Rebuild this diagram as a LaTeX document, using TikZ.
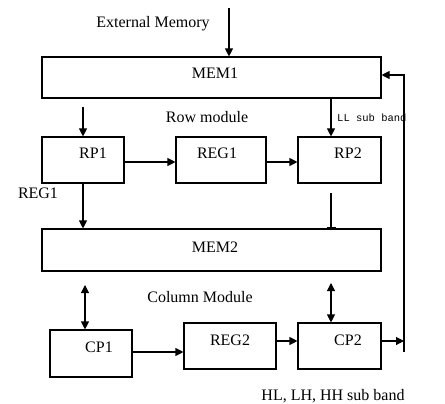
\documentclass[tikz,border=0pt]{standalone}
\usepackage{fontspec}
\setmainfont{Liberation Serif}
\newfontfamily\monofont{Liberation Mono}
\usetikzlibrary{arrows.meta}
\begin{document}
\begin{tikzpicture}[x=1pt,y=-1pt,
  box/.style={draw,line width=1.1pt,inner sep=0pt},
  lbl/.style={font=\fontsize{16}{18}\selectfont,inner sep=0pt},
  arr/.style={line width=1.1pt,-{Triangle[length=8pt,width=8pt]}},
  darr/.style={line width=1.1pt,{Triangle[length=8pt,width=8pt]}-{Triangle[length=8pt,width=8pt]}},
  barr/.style={line width=1.1pt,-{Bar[width=9pt,line width=1.5pt]}}]
\useasboundingbox (0,0) rectangle (445,404);
% boxes
\node[box,minimum width=339pt,minimum height=41pt] (mem1) at (211.5,77.5) {};
\node[box,minimum width=82pt,minimum height=46pt] (rp1) at (83,160) {};
\node[box,minimum width=90pt,minimum height=46pt] (reg1) at (221,160) {};
\node[box,minimum width=83pt,minimum height=46pt] (rp2) at (339.5,160) {};
\node[box,minimum width=339pt,minimum height=42pt] (mem2) at (211.5,250) {};
\node[box,minimum width=82pt,minimum height=47pt] (cp1) at (91,353.5) {};
\node[box,minimum width=92pt,minimum height=46pt] (reg2) at (230,346) {};
\node[box,minimum width=83pt,minimum height=46pt] (cp2) at (339.5,346) {};
% box texts
\node[lbl] (tmem1) at (215,73) {MEM1};
\node[lbl] (trp1) at (93,153) {RP1};
\node[lbl] (treg1) at (217,153) {REG1};
\node[lbl] (trp2) at (348,153) {RP2};
\node[lbl] (tmem2) at (215,247) {MEM2};
\node[lbl] (tcp1) at (99,347) {CP1};
\node[lbl] (treg2) at (230,340) {REG2};
\node[lbl] (tcp2) at (348,340) {CP2};
% free labels
\node[lbl] (lext) at (153,24) {External Memory};
\node[lbl] (lrow) at (207,117) {Row module};
\node[inner sep=0pt,anchor=west,font=\monofont\fontsize{10.5}{12}\selectfont] (lll) at (337,118) {LL sub band};
\node[lbl] (lreg1) at (38,193) {REG1};
\node[lbl] (lcol) at (200,297) {Column Module};
\node[lbl] (lhl) at (333,396) {HL, LH, HH sub band};
% coordinates
\coordinate (ext) at (229,8);
\coordinate (rp1in) at (83,107);
\coordinate (xr) at (331,0);
\coordinate (rp2out) at (331,193);
\coordinate (cp1top) at (85,285);
\coordinate (cp2top) at (331,283);
\coordinate (yrow) at (0,162);
\coordinate (ycp1) at (0,352);
\coordinate (ycp2) at (0,341);
\coordinate (fbout) at (404,341);
\coordinate (fbbot) at (404,352);
\coordinate (fbtop) at (404,75);
% connectors
\draw[arr] (ext) -- (ext|-mem1.north);
\draw[arr] (rp1in) -- (rp1in|-rp1.north);
\draw[arr] (mem1.south-|xr) -- (rp2.north-|xr);
\draw[arr] (rp1.east|-yrow) -- (reg1.west|-yrow);
\draw[arr] (reg1.east|-yrow) -- (rp2.west|-yrow);
\draw[arr] (rp1.south) -- (rp1.south|-mem2.north);
\draw[barr] (rp2out) -- (mem2.north-|xr);
\draw[darr] (cp1top) -- (cp1top|-cp1.north);
\draw[darr] (cp2top) -- (cp2top|-cp2.north);
\draw[arr] (cp1.east|-ycp1) -- (reg2.west|-ycp1);
\draw[arr] (reg2.east|-ycp2) -- (cp2.west|-ycp2);
\draw[arr] (cp2.east|-ycp2) -- (fbout);
\draw[arr] (fbbot) -- (fbtop) -- (mem1.east|-fbtop);
\end{tikzpicture}
\end{document}
